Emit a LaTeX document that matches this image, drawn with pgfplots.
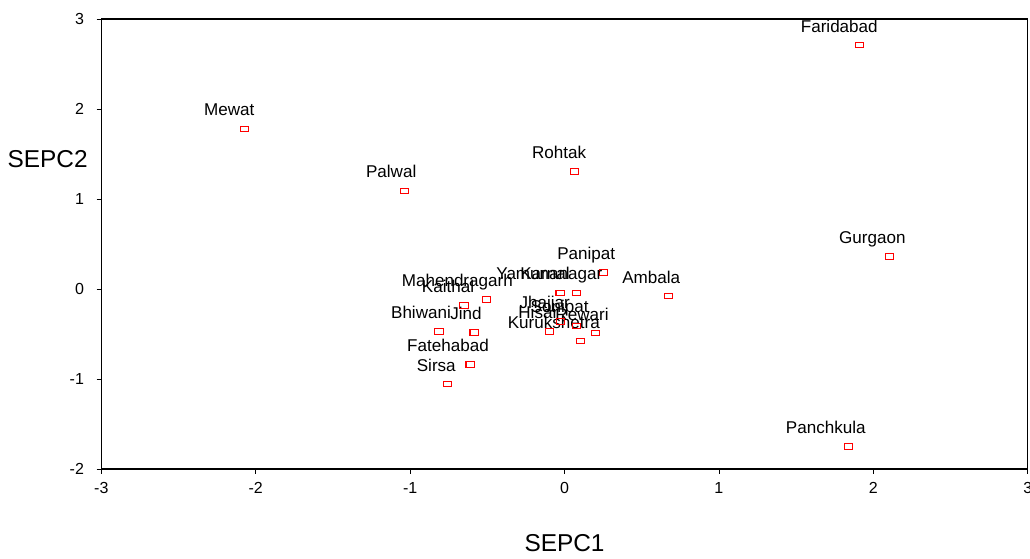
\documentclass[border=0pt]{standalone}
\usepackage{fontspec}
\setmainfont{Liberation Sans}
\usepackage{pgfplots}
\usepackage{pgfplotstable}
\pgfplotsset{compat=1.18}
\pgfplotstableread{
x y dx name
1.909 2.711 -15.0 Faridabad
-2.074 1.778 -11.3 Mewat
-1.038 1.089 -9.8 Palwal
0.063 1.308 -11.3 Rohtak
2.104 0.359 -12.8 Gurgaon
1.838 -1.748 -16.9 Panchkula
0.251 0.185 -12.8 Panipat
0.672 -0.078 -12.8 Ambala
-0.506 -0.115 -21.8 Mahendragarh
-0.651 -0.185 -12.0 Kaithal
-0.813 -0.470 -13.5 Bhiwani
-0.586 -0.485 -6.0 Jind
-0.612 -0.837 -16.5 Fatehabad
-0.759 -1.056 -8.3 Sirsa
0.077 -0.044 -20.3 Yamunanagar
-0.029 -0.044 -11.3 Karnal
0.103 -0.578 -20.0 Kurukshetra
0.198 -0.489 -9.8 Rewari
-0.098 -0.470 -8.3 Hisar
-0.025 -0.363 -12.0 Jhajjar
0.079 -0.411 -12.8 Sonipat
}\data
\begin{document}
\begin{tikzpicture}
\begin{axis}[
  name=ax,
  scale only axis,
  width=694.8pt, height=337.5pt,
  xmin=-3, xmax=3, ymin=-2, ymax=3,
  xtick={-3,-2,-1,0,1,2,3},
  ytick={-2,-1,0,1,2,3},
  axis line style={black, line width=0.8pt},
  tick style={black, line width=0.6pt},
  tick align=outside,
  major tick length=3.5pt,
  xtick pos=bottom, ytick pos=left,
  /pgf/number format/assume math mode=true,
  ticklabel style={font=\fontsize{12}{14}\selectfont},
  xticklabel style={yshift=-3pt},
  yticklabel style={xshift=-6pt},
  xlabel={SEPC1},
  ylabel={SEPC2},
  xlabel style={font=\fontsize{18.3}{20}\selectfont, at={(rel axis cs:0.5,0)}, anchor=center, yshift=-55.5pt},
  ylabel style={font=\fontsize{18.3}{20}\selectfont, rotate=-90, at={(rel axis cs:0,0.689)}, anchor=east, xshift=-6.75pt},
  clip=false,
]
\addplot[only marks, color=red, mark=square, mark size=2.1pt,
  mark options={xscale=1.45, line width=0.8pt, draw=red, fill=none, solid},
  point meta=explicit symbolic,
  nodes near coords,
  visualization depends on={\thisrow{dx} \as \dx},
  nodes near coords style={anchor=base, xshift=\dx*1pt, yshift=9.75pt, text=black, inner sep=0pt, font=\fontsize{12.8}{14}\selectfont},
] table[x=x, y=y, meta=name] {\data};
\end{axis}
\pgfresetboundingbox
\path ([shift={(-76pt,-67.5pt)}]ax.south west) rectangle ([shift={(1.7pt,14.25pt)}]ax.north east);
\end{tikzpicture}
\end{document}
